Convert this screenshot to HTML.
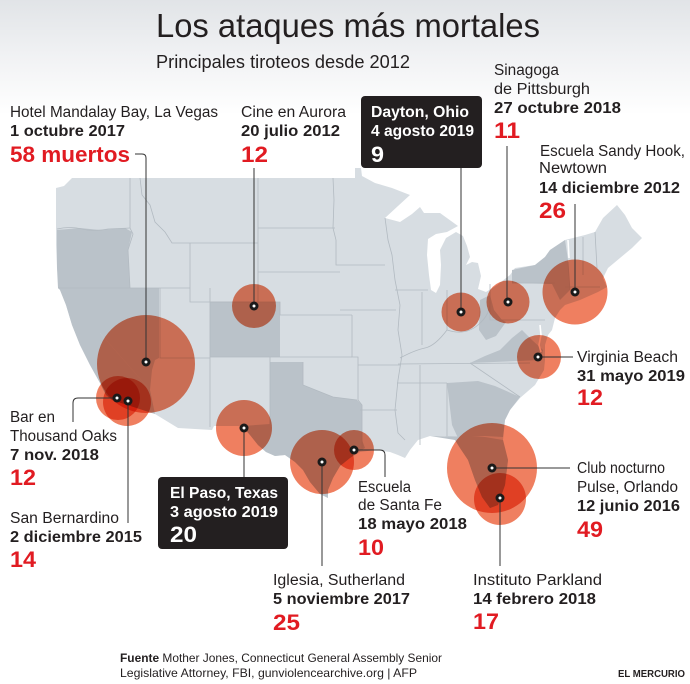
<!DOCTYPE html>
<html><head><meta charset="utf-8"><style>
html,body{margin:0;padding:0;background:#fff;}
svg{display:block;}
text{font-family:"Liberation Sans",Arial,sans-serif;fill:#231f20;}
.b{font-weight:bold;}
.r{fill:#e11b22;font-weight:bold;font-size:22px;}
.w{fill:#fff;}
.t{font-size:15.5px;}
.c{fill:#ef7f60;mix-blend-mode:multiply;}
</style></head><body>
<svg width="690" height="684" viewBox="0 0 690 684" xmlns="http://www.w3.org/2000/svg">
<defs>
<linearGradient id="bg" x1="0" y1="0" x2="0" y2="1">
<stop offset="0" stop-color="#e1e4e7"/>
<stop offset="0.5" stop-color="#f1f2f4"/>
<stop offset="1" stop-color="#ffffff"/>
</linearGradient>
</defs>
<rect x="0" y="0" width="690" height="684" fill="#fff"/>
<rect x="0" y="0" width="690" height="115" fill="url(#bg)"/>

<!-- land -->
<path fill="#d7dde2" d="M72,178 L355,178 L355,168 L361,168 L362,176 L375,183 L392,188 L410,195 L398,206 L385,218 L400,222 L412,214 L420,207 L424,213 L440,213 L458,226 L447,232 L436,234 L428,239 L427,255 L429,275 L431,290 L436,293 L440,285 L441,265 L440,250 L446,238 L456,232 L463,236 L467,246 L470,257 L466,265 L472,262 L478,263 L481,276 L478,289 L486,292 L497,285 L510,275 L515,268 L535,265 L545,257 L550,250 L565,240 L585,235 L595,232 L603,218 L617,205 L625,215 L632,228 L642,238 L632,248 L620,258 L608,268 L603,278 L607,287 L598,292 L580,300 L565,305 L560,310 L555,318 L552,330 L548,335 L545,345 L545,360 L544,370 L535,385 L520,398 L510,410 L505,420 L503,440 L508,460 L505,485 L498,505 L490,508 L482,497 L475,480 L468,460 L460,448 L455,440 L445,436 L430,436 L418,440 L410,450 L405,458 L398,455 L390,452 L375,450 L360,452 L350,458 L340,466 L333,478 L328,490 L328,498 L320,494 L310,482 L303,470 L295,462 L285,455 L275,456 L266,452 L258,445 L250,435 L242,426 L214,426 L212,430 L178,428 L155,414 L112,400 L106,395 L100,383 L90,365 L80,345 L72,325 L66,305 L60,290 L57,268 L56,245 L56,225 L56,200 L56,188 L64,186 Z"/>

<!-- darker states -->
<g fill="#bac2c9">
<path d="M57,230 L80,228 L100,230 L125,228 L132,232 L128,250 L130,288 L58,288 L57,268 Z"/>
<path d="M58,288 L100,288 L100,333 L150,390 L155,414 L112,400 L106,395 L100,383 L90,365 L80,345 L72,325 L66,305 L60,290 Z"/>
<path d="M100,288 L159,288 L159,358 L155,360 L152,370 L150,390 L100,333 Z"/>
<path d="M210,302 L280,302 L280,357 L210,357 Z"/>
<path d="M270,362 L303,362 L303,385 L333,397 L357,400 L362,405 L362,440 L365,448 L358,452 L350,458 L340,466 L333,478 L328,490 L328,498 L320,494 L310,482 L303,470 L295,462 L285,455 L275,456 L266,452 L258,445 L250,435 L242,426 L270,424 Z"/>
<path d="M447,383 L478,381 L495,386 L520,397 L510,410 L505,420 L503,437 L485,436 L458,438 L452,425 Z"/>
<path d="M430,436 L455,440 L460,448 L468,460 L475,480 L482,497 L490,508 L498,505 L505,485 L508,460 L503,440 L485,437 Z"/>
<path d="M470,363 L541,360 L543,350 L532,340 L522,330 L512,338 L500,350 L485,356 Z"/>
<path d="M512,270 L535,265 L545,257 L550,250 L565,240 L568,260 L570,290 L560,300 L552,284 L512,283 Z"/>
<path d="M480,300 L490,295 L494,310 L502,320 L506,322 L496,336 L486,340 L479,330 Z"/>
</g>

<!-- state lines -->
<g fill="none" stroke="#b2bac1" stroke-width="0.8">
<path d="M57,229 Q70,226 82,229 T108,229 L130,228"/>
<path d="M130,178 L130,228 L133,234 L128,250 L130,288"/>
<path d="M140,178 L142,195 L150,205 L155,222 L165,232 L172,243 L258,243"/>
<path d="M190,243 L190,302 L258,302"/>
<path d="M58,288 L190,288"/>
<path d="M160,288 L160,358 L210,358"/>
<path d="M258,178 L258,302"/>
<path d="M258,228 L335,228"/>
<path d="M258,272 L340,272"/>
<path d="M210,288 L210,427"/>
<path d="M210,302 L280,302 L280,315 L352,315"/>
<path d="M210,357 L352,357"/>
<path d="M270,357 L270,424"/>
<path d="M303,362 L303,385 L333,397 L357,400"/>
<path d="M352,315 L352,357 L358,357 L358,400 L362,405 L362,448"/>
<path d="M333,178 L334,200 L333,228 L336,240 L336,265 L385,265"/>
<path d="M340,310 L396,310"/>
<path d="M358,365 L400,365"/>
<path d="M360,410 L397,410"/>
<path d="M385,218 L388,240 L392,255 L395,280 L400,305 L398,330 L402,355 L398,380 L395,410 L398,433 L405,440"/>
<path d="M395,290 L428,290"/>
<path d="M422,292 L422,345"/>
<path d="M447,290 L447,330"/>
<path d="M400,358 Q415,350 425,348 T447,330 Q465,336 478,325 T490,300"/>
<path d="M398,364 L530,363"/>
<path d="M397,383 L447,383"/>
<path d="M420,365 L420,445"/>
<path d="M447,383 L447,436"/>
<path d="M490,284 L490,320 L545,320"/>
<path d="M512,283 L555,283"/>
<path d="M583,237 L583,275 M595,232 L597,268 M565,287 L600,287 M568,262 L570,290"/>
<path d="M470,363 L520,397"/>
</g>
<g fill="none" stroke="#fff" stroke-width="1.6">
<path d="M540,325 L541,335 L539,345 L541,352"/>
<path d="M568,240 L569,258"/>
</g>

<!-- circles -->
<g>
<circle class="c" cx="146" cy="364" r="49"/>
<circle class="c" cx="118" cy="398" r="22"/>
<circle class="c" cx="127" cy="402" r="24"/>
<circle class="c" cx="254" cy="306" r="22"/>
<circle class="c" cx="244" cy="428" r="28"/>
<circle class="c" cx="322" cy="462" r="32"/>
<circle class="c" cx="354" cy="450" r="20"/>
<circle class="c" cx="461" cy="312" r="19.5"/>
<circle class="c" cx="508" cy="302" r="21.5"/>
<circle class="c" cx="575" cy="292" r="32.5"/>
<circle class="c" cx="539" cy="357" r="22"/>
<circle class="c" cx="492" cy="468" r="45"/>
<circle class="c" cx="500" cy="499" r="26"/>
</g>

<!-- leader lines -->
<g fill="none" stroke="#333" stroke-width="1">
<path d="M135,154 H142 Q146,154 146,158 V362"/>
<path d="M254,168 V306"/>
<path d="M461,168 V312"/>
<path d="M507,146 V302"/>
<path d="M575,204 V292"/>
<path d="M539,357 H573"/>
<path d="M117,398 H78 Q73,398 73,403 V422"/>
<path d="M128,401 V523"/>
<path d="M244,428 V477"/>
<path d="M322,462 V566"/>
<path d="M354,450 H380 Q385,450 385,455 V477"/>
<path d="M492,468 H570"/>
<path d="M500,498 V566"/>
</g>

<!-- dots -->
<g>
<g fill="#1a1a1a">
<circle cx="146" cy="362" r="4.5"/><circle cx="117" cy="398" r="4.5"/><circle cx="128" cy="401" r="4.5"/>
<circle cx="254" cy="306" r="4.5"/><circle cx="244" cy="428" r="4.5"/><circle cx="322" cy="462" r="4.5"/>
<circle cx="354" cy="450" r="4.5"/><circle cx="461" cy="312" r="4.5"/><circle cx="508" cy="302" r="4.5"/>
<circle cx="575" cy="292" r="4.5"/><circle cx="538" cy="357" r="4.5"/><circle cx="492" cy="468" r="4.5"/>
<circle cx="500" cy="498" r="4.5"/>
</g>
<g fill="#fff">
<circle cx="146" cy="362" r="1.5"/><circle cx="117" cy="398" r="1.5"/><circle cx="128" cy="401" r="1.5"/>
<circle cx="254" cy="306" r="1.5"/><circle cx="244" cy="428" r="1.5"/><circle cx="322" cy="462" r="1.5"/>
<circle cx="354" cy="450" r="1.5"/><circle cx="461" cy="312" r="1.5"/><circle cx="508" cy="302" r="1.5"/>
<circle cx="575" cy="292" r="1.5"/><circle cx="538" cy="357" r="1.5"/><circle cx="492" cy="468" r="1.5"/>
<circle cx="500" cy="498" r="1.5"/>
</g>
</g>

<!-- title -->
<text x="156" y="37" font-size="33" textLength="384" lengthAdjust="spacingAndGlyphs">Los ataques más mortales</text>
<text x="156" y="68" font-size="18" textLength="254" lengthAdjust="spacingAndGlyphs">Principales tiroteos desde 2012</text>

<!-- Las Vegas -->
<text class="t" x="10" y="117" textLength="208" lengthAdjust="spacingAndGlyphs">Hotel Mandalay Bay, La Vegas</text>
<text class="t b" x="10" y="136" textLength="115" lengthAdjust="spacingAndGlyphs">1 octubre 2017</text>
<text class="r" x="10" y="162" textLength="120" lengthAdjust="spacingAndGlyphs">58 muertos</text>

<!-- Aurora -->
<text class="t" x="241" y="117" textLength="105" lengthAdjust="spacingAndGlyphs">Cine en Aurora</text>
<text class="t b" x="241" y="136" textLength="99" lengthAdjust="spacingAndGlyphs">20 julio 2012</text>
<text class="r" x="241" y="162" textLength="27" lengthAdjust="spacingAndGlyphs">12</text>

<!-- Dayton -->
<rect x="361" y="96" width="121" height="72" rx="4" fill="#231f20"/>
<text class="t b w" x="371" y="117" textLength="98" lengthAdjust="spacingAndGlyphs">Dayton, Ohio</text>
<text class="t b w" x="371" y="136" textLength="103" lengthAdjust="spacingAndGlyphs">4 agosto 2019</text>
<text class="r w" x="371" y="162" textLength="13" lengthAdjust="spacingAndGlyphs">9</text>

<!-- Pittsburgh -->
<text class="t" x="494" y="75" textLength="65" lengthAdjust="spacingAndGlyphs">Sinagoga</text>
<text class="t" x="494" y="94" textLength="96" lengthAdjust="spacingAndGlyphs">de Pittsburgh</text>
<text class="t b" x="494" y="113" textLength="127" lengthAdjust="spacingAndGlyphs">27 octubre 2018</text>
<text class="r" x="494" y="138" textLength="26" lengthAdjust="spacingAndGlyphs">11</text>

<!-- Sandy Hook -->
<text class="t" x="540" y="156" textLength="145" lengthAdjust="spacingAndGlyphs">Escuela Sandy Hook,</text>
<text class="t" x="539" y="173" textLength="68" lengthAdjust="spacingAndGlyphs">Newtown</text>
<text class="t b" x="539" y="193" textLength="141" lengthAdjust="spacingAndGlyphs">14 diciembre 2012</text>
<text class="r" x="539" y="218" textLength="27" lengthAdjust="spacingAndGlyphs">26</text>

<!-- Virginia Beach -->
<text class="t" x="577" y="362" textLength="101" lengthAdjust="spacingAndGlyphs">Virginia Beach</text>
<text class="t b" x="577" y="381" textLength="108" lengthAdjust="spacingAndGlyphs">31 mayo 2019</text>
<text class="r" x="577" y="405" textLength="26" lengthAdjust="spacingAndGlyphs">12</text>

<!-- Thousand Oaks -->
<text class="t" x="10" y="422" textLength="45" lengthAdjust="spacingAndGlyphs">Bar en</text>
<text class="t" x="10" y="441" textLength="107" lengthAdjust="spacingAndGlyphs">Thousand Oaks</text>
<text class="t b" x="10" y="460" textLength="89" lengthAdjust="spacingAndGlyphs">7 nov. 2018</text>
<text class="r" x="10" y="485" textLength="26" lengthAdjust="spacingAndGlyphs">12</text>

<!-- San Bernardino -->
<text class="t" x="10" y="523" textLength="109" lengthAdjust="spacingAndGlyphs">San Bernardino</text>
<text class="t b" x="10" y="542" textLength="132" lengthAdjust="spacingAndGlyphs">2 diciembre 2015</text>
<text class="r" x="10" y="567" textLength="26" lengthAdjust="spacingAndGlyphs">14</text>

<!-- El Paso -->
<rect x="158" y="477" width="130" height="72" rx="4" fill="#231f20"/>
<text class="t b w" x="170" y="498" textLength="108" lengthAdjust="spacingAndGlyphs">El Paso, Texas</text>
<text class="t b w" x="170" y="517" textLength="108" lengthAdjust="spacingAndGlyphs">3 agosto 2019</text>
<text class="r w" x="170" y="542" textLength="27" lengthAdjust="spacingAndGlyphs">20</text>

<!-- Sutherland -->
<text class="t" x="273" y="585" textLength="132" lengthAdjust="spacingAndGlyphs">Iglesia, Sutherland</text>
<text class="t b" x="273" y="604" textLength="137" lengthAdjust="spacingAndGlyphs">5 noviembre 2017</text>
<text class="r" x="273" y="630" textLength="27" lengthAdjust="spacingAndGlyphs">25</text>

<!-- Santa Fe -->
<text class="t" x="358" y="492" textLength="53" lengthAdjust="spacingAndGlyphs">Escuela</text>
<text class="t" x="358" y="510" textLength="84" lengthAdjust="spacingAndGlyphs">de Santa Fe</text>
<text class="t b" x="358" y="529" textLength="109" lengthAdjust="spacingAndGlyphs">18 mayo 2018</text>
<text class="r" x="358" y="555" textLength="26" lengthAdjust="spacingAndGlyphs">10</text>

<!-- Orlando -->
<text class="t" x="577" y="473" textLength="88" lengthAdjust="spacingAndGlyphs">Club nocturno</text>
<text class="t" x="577" y="492" textLength="101" lengthAdjust="spacingAndGlyphs">Pulse, Orlando</text>
<text class="t b" x="577" y="511" textLength="103" lengthAdjust="spacingAndGlyphs">12 junio 2016</text>
<text class="r" x="577" y="537" textLength="26" lengthAdjust="spacingAndGlyphs">49</text>

<!-- Parkland -->
<text class="t" x="473" y="585" textLength="129" lengthAdjust="spacingAndGlyphs">Instituto Parkland</text>
<text class="t b" x="473" y="604" textLength="123" lengthAdjust="spacingAndGlyphs">14 febrero 2018</text>
<text class="r" x="473" y="629" textLength="26" lengthAdjust="spacingAndGlyphs">17</text>

<!-- footer -->
<text x="120" y="662" font-size="12" fill="#333" textLength="322" lengthAdjust="spacingAndGlyphs"><tspan font-weight="bold">Fuente</tspan> Mother Jones, Connecticut General Assembly Senior</text>
<text x="120" y="677" font-size="12" fill="#333" textLength="297" lengthAdjust="spacingAndGlyphs">Legislative Attorney, FBI, gunviolencearchive.org | AFP</text>
<text x="618" y="677" font-size="10" font-weight="bold" textLength="67" lengthAdjust="spacingAndGlyphs">EL MERCURIO</text>
</svg>
</body></html>
